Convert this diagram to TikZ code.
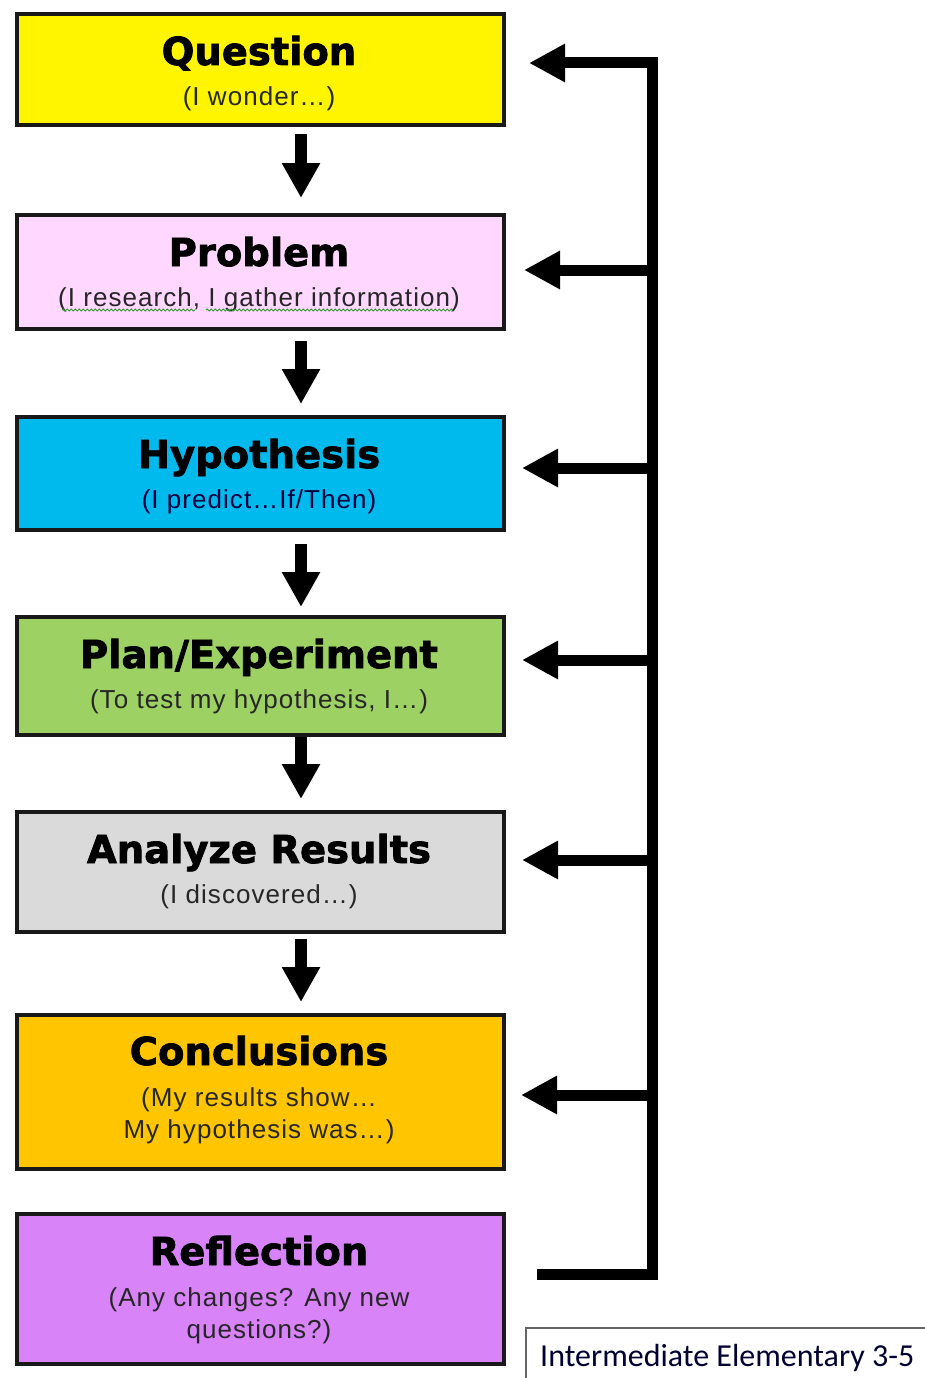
\documentclass[tikz,border=0pt]{standalone}
\usepackage{fontspec}
\setmainfont{Liberation Sans}
\newfontfamily\titlefont[FakeBold=2]{DejaVu Sans Bold}
\newfontfamily\subfont[LetterSpace=4]{Liberation Sans}
\newfontfamily\labelfont{Carlito}
\usetikzlibrary{arrows.meta,decorations.pathmorphing}
\definecolor{cQ}{HTML}{FFF500}
\definecolor{cP}{HTML}{FFD7FF}
\definecolor{cH}{HTML}{00BAEE}
\definecolor{cE}{HTML}{9DD163}
\definecolor{cA}{HTML}{DADADA}
\definecolor{cC}{HTML}{FFC600}
\definecolor{cR}{HTML}{D883F8}
\definecolor{spell}{HTML}{2E9A2E}
\begin{document}
\begin{tikzpicture}[x=1pt,y=-1pt,
  stepbox/.style={draw=black!90,line width=4pt,minimum width=487pt,anchor=north west,inner sep=0pt},
  ttl/.style={font=\titlefont\fontsize{38.5}{40}\selectfont,inner sep=0pt,anchor=base},
  sub/.style={font=\subfont\fontsize{26}{32}\selectfont,inner sep=0pt,anchor=base,text=black!85},
  downarrow/.style={line width=12pt,-{Triangle[width=36pt,length=35pt]}},
  fb/.style={line width=11pt,line join=miter},
  fbarrow/.style={line width=11pt,-{Triangle[width=36pt,length=36pt]}},
  squig/.style={spell,line width=1pt,decorate,decoration={snake,amplitude=1pt,segment length=4pt}}]
\useasboundingbox (0,0) rectangle (925,1378);
% boxes
\node[stepbox,fill=cQ,minimum height=111pt] (Q) at (15,12) {};
\node[stepbox,fill=cP,minimum height=114pt] (P) at (15,213) {};
\node[stepbox,fill=cH,minimum height=113pt] (H) at (15,415) {};
\node[stepbox,fill=cE,minimum height=118pt] (E) at (15,615) {};
\node[stepbox,fill=cA,minimum height=120pt] (A) at (15,810) {};
\node[stepbox,fill=cC,minimum height=154pt] (C) at (15,1013) {};
\node[stepbox,fill=cR,minimum height=150pt] (R) at (15,1212) {};
% texts
\node[ttl] (Qt) at (259,65) {Question};
\node[sub] (Qs) at (259,106) {(I wonder\dots)};
\node[ttl] (Pt) at (259,266) {Problem};
\node[sub] (Ps) at (259,306) {(I research, I gather information)};
\node[ttl] (Ht) at (259,468) {Hypothesis};
\node[sub,text=blue!25!black] (Hs) at (259,508) {(I predict\dots If/Then)};
\node[ttl] (Et) at (259,668) {Plan/Experiment};
\node[sub] (Es) at (259,708) {(To test my hypothesis, I\dots)};
\node[ttl] (At) at (259,863) {Analyze Results};
\node[sub] (As) at (259,903) {(I discovered\dots)};
\node[ttl] (Ct) at (259,1065) {Conclusions};
\node[sub] (Cs1) at (259,1106) {(My results show\dots};
\node[sub] (Cs2) at (259,1138) {My hypothesis was\dots)};
\node[ttl] (Rt) at (259,1265) {Reflection};
\node[sub] (Rs1) at (259,1306) {(Any changes? Any new};
\node[sub] (Rs2) at (259,1338) {questions?)};
% spell-check squiggles
\draw[squig] ([xshift=4pt,yshift=-4pt]Ps.base west) -- ([xshift=137pt,yshift=-4pt]Ps.base west);
\draw[squig] ([xshift=148pt,yshift=-4pt]Ps.base west) -- ([xshift=-7pt,yshift=-4pt]Ps.base east);
% down arrows
\draw[downarrow] ([xshift=40.5pt,yshift=-7pt]Q.south) -- ([xshift=40.5pt,yshift=15pt]P.north);
\draw[downarrow] ([xshift=40.5pt,yshift=-10pt]P.south) -- ([xshift=40.5pt,yshift=11pt]H.north);
\draw[downarrow] ([xshift=40.5pt,yshift=-12pt]H.south) -- ([xshift=40.5pt,yshift=8pt]E.north);
\draw[downarrow] ([xshift=40.5pt,yshift=0pt]E.south) -- ([xshift=40.5pt,yshift=11pt]A.north);
\draw[downarrow] ([xshift=40.5pt,yshift=-5pt]A.south) -- ([xshift=40.5pt,yshift=11pt]C.north);
% feedback bracket
\coordinate (bR) at (537,1274);
\coordinate (sB) at (652,1274);
\coordinate (sQ) at (652,63);
\coordinate (sP) at (652,270);
\coordinate (sH) at (652,468);
\coordinate (sE) at (652,660);
\coordinate (sA) at (652,860);
\coordinate (sC) at (652,1095);
\draw[fb] (bR) -- (sB) -- (sQ) -- ([xshift=-2pt]sQ -| 560,0);
\draw[fbarrow] ([xshift=3pt]sQ) -- ([xshift=23pt]Q.east |- sQ);
\draw[fbarrow] (sP) -- ([xshift=18pt]P.east |- sP);
\draw[fbarrow] (sH) -- ([xshift=16pt]H.east |- sH);
\draw[fbarrow] (sE) -- ([xshift=16pt]E.east |- sE);
\draw[fbarrow] (sA) -- ([xshift=16pt]A.east |- sA);
\draw[fbarrow] (sC) -- ([xshift=15pt]C.east |- sC);
% label box
\node[draw=black!60,line width=1.5pt,anchor=north west,minimum width=420pt,minimum height=60pt,
  inner sep=0pt] (L) at (525,1327) {};
\node[font=\labelfont\fontsize{32}{36}\selectfont,anchor=base west,inner sep=0pt,text=blue!20!black]
  (Lt) at (540,1366) {Intermediate Elementary 3-5};
\end{tikzpicture}
\end{document}
